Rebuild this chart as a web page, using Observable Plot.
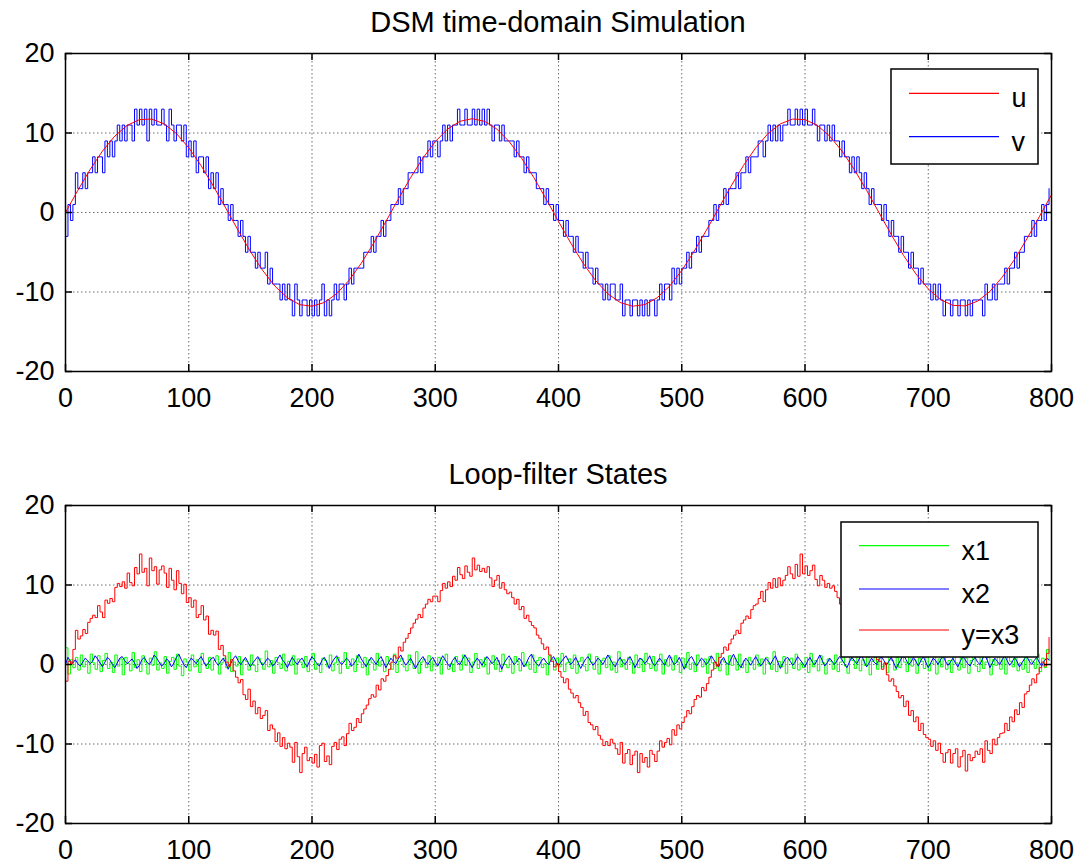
<!DOCTYPE html>
<html><head><meta charset="utf-8">
<script src="https://cdn.jsdelivr.net/npm/d3@7"></script>
<script src="https://cdn.jsdelivr.net/npm/@observablehq/plot@0.6"></script>
<style>
body{margin:0;background:#fff;}
#root{position:relative;width:1083px;height:865px;overflow:hidden;background:#fff;font-family:"Liberation Sans",Arial,sans-serif;}
.abs{position:absolute;}
</style></head>
<body><div id="root"></div>
<script>
const xTicks = [0,100,200,300,400,500,600,700,800];
const yTicks = [-20,-10,0,10,20];
const titles = ["DSM time-domain Simulation", "Loop-filter States"];
const legendTop = ["u", "v"];
const legendBottom = ["x1", "x2", "y=x3"];
const uStep = 10;   // sample spacing of u
const sStep = 2;    // sample spacing of v, x1, x2, x3

const u = [0,2.78,5.41,7.73,9.61,10.96,11.68,11.75,11.15,9.93,8.14,5.90,3.32,0.56,-2.23,-4.90,-7.29,-9.28,-10.73,-11.59,-11.79,-11.32,-10.22,-8.54,-6.38,-3.86,-1.12,1.68,4.39,6.84,8.92,10.49,11.47,11.80,11.47,10.49,8.92,6.84,4.39,1.68,-1.12,-3.86,-6.38,-8.54,-10.22,-11.32,-11.79,-11.59,-10.73,-9.28,-7.29,-4.90,-2.23,0.56,3.32,5.90,8.14,9.93,11.15,11.75,11.68,10.96,9.61,7.73,5.41,2.78,0,-2.78,-5.41,-7.73,-9.61,-10.96,-11.68,-11.75,-11.15,-9.93,-8.14,-5.90,-3.32,-0.56,2.23];

const v = [
-3,1,-1,1,5,3,3,5,3,5, 5,7,5,7,7,5,9,7,9,7, 9,11,9,11,9,11,11,9,13,11, 13,11,13,9,13,11,13,11,11,13,
11,9,13,11,9,11,11,9,11,7, 9,7,9,5,7,7,5,7,3,5, 3,5,1,3,1,1,-1,1,-1,-1, -3,-1,-3,-5,-3,-5,-5,-7,-5,-7,
-7,-5,-9,-7,-9,-9,-9,-11,-9,-11, -9,-11,-13,-9,-11,-13,-11,-11,-13,-11, -13,-11,-13,-11,-9,-13,-11,-13,-11,-9, -11,-9,-9,-11,-9,-7,-9,-7,-7,-7,
-7,-5,-5,-5,-3,-5,-3,-3,-1,-3, -1,-1,1,1,1,3,1,3,3,5, 5,5,5,7,5,7,7,9,7,9, 9,7,9,11,9,11,9,11,11,13,
11,11,13,11,11,13,11,13,11,13, 11,13,11,9,11,11,9,11,9,9, 9,9,7,9,7,7,5,7,5,5, 5,3,3,3,1,3,1,1,-1,1,
-1,-1,-3,-1,-3,-3,-5,-3,-5,-5, -7,-5,-7,-7,-9,-7,-9,-9,-11,-9, -11,-9,-9,-11,-11,-9,-13,-11,-11,-13, -11,-11,-13,-11,-13,-11,-13,-11,-11,-13,
-11,-9,-11,-9,-9,-11,-7,-9,-7,-9, -7,-7,-5,-7,-5,-5,-3,-5,-3,-3, -3,-1,-1,1,-1,1,1,3,1,3, 3,3,5,3,5,5,7,5,7,7,
7,9,9,7,9,11,9,11,9,11, 9,11,11,13,11,11,13,11,13,11, 13,11,11,13,11,9,11,11,9,11, 9,11,9,9,7,9,7,7,5,7,
5,7,5,3,5,3,1,3,1,1, 1,-1,1,-1,-3,-1,-3,-3,-5,-3, -5,-5,-7,-5,-7,-7,-9,-7,-9,-9, -9,-11,-9,-11,-9,-11,-13,-11,-11,-13,
-11,-11,-13,-11,-11,-13,-11,-13,-11,-11, -11,-11,-13,-9,-11,-11,-9,-11,-9,-9, -9,-7,-9,-7,-7,-5,-7,-5,-5,-3, -3,-3,-1,-3,-1,-1,1,-1,1,3
];

const x3 = [
-2.1,0.4,0.1,1.9,4.3,3.2,3.6,4.4,3.9,5.3, 5.8,6.2,5.9,7.4,6.6,5.9,8.1,7.7,8.3,7.9, 9.7,10.2,9.8,10.4,9.6,11.5,10.3,9.9,12.2,11.4, 13.9,11.6,12.1,9.9,13.4,11.8,12.3,10.1,11.9,12.4,
11.5,9.7,12.1,10.6,9.4,11.8,10.2,8.9,10.1,7.8, 8.4,7.2,8.1,5.9,6.3,7.4,5.6,6.1,3.8,4.3, 3.7,4.2,1.9,2.4,1.1,0.3,-0.2,0.6,-0.8,-1.6, -2.3,-1.9,-3.8,-4.4,-3.1,-5.3,-4.6,-6.2,-5.4,-6.8,
-6.4,-5.8,-8.3,-7.6,-8.1,-9.7,-8.6,-10.3,-9.2,-10.6, -9.9,-10.4,-12.3,-9.8,-11.6,-13.6,-11.2,-10.4,-12.1,-11.7, -12.4,-11.3,-12.9,-10.2,-9.9,-12.2,-11.5,-12.6,-10.3,-9.8, -10.7,-9.4,-9.1,-10.2,-8.7,-7.4,-8.3,-7.9,-6.8,-7.3,
-6.2,-5.6,-5.1,-4.3,-3.8,-4.1,-2.6,-3.2,-1.8,-2.1, -1.4,-0.6,0.3,1.1,0.8,2.2,1.7,2.8,3.3,3.9, 4.6,5.2,5.7,6.3,5.9,7.1,7.6,8.2,7.9,8.6, 8.6,7.9,9.3,10.2,9.6,10.4,9.8,11.1,10.6,12.2,
11.3,10.8,12.4,11.6,11.1,13.4,11.9,12.5,11.7,12.1, 11.6,12.3,10.9,9.8,10.6,11.2,9.6,10.3,9.4,8.9, 9.1,8.4,7.6,8.2,6.9,7.3,5.8,6.2,5.4,4.9, 4.6,3.7,3.3,2.6,1.9,2.2,1.2,0.4,-0.3,0.1,
-0.9,-1.6,-2.3,-1.8,-3.1,-3.6,-4.2,-3.9,-4.8,-5.4, -6.4,-5.9,-7.3,-7.6,-8.2,-7.8,-8.9,-9.4,-10.2,-9.7, -10.2,-9.4,-9.9,-10.6,-11.3,-9.8,-12.4,-11.2,-10.7,-12.6, -11.4,-10.9,-13.6,-11.2,-12.3,-11.7,-12.9,-10.8,-11.3,-12.2,
-10.9,-9.6,-10.4,-9.8,-9.3,-10.1,-8.2,-8.9,-7.6,-8.1, -7.3,-6.6,-5.8,-6.2,-5.3,-4.4,-3.9,-4.1,-2.9,-3.3, -2.4,-1.6,-0.7,0.3,-0.2,0.9,1.4,2.2,1.8,2.6, 3.2,3.7,4.3,3.9,5.2,5.6,6.1,5.8,6.9,7.4,
7.6,8.3,9.2,7.9,9.4,10.3,9.6,10.8,9.7,10.9, 9.9,10.6,11.2,12.3,11.4,10.8,12.6,11.1,13.9,11.4, 12.4,11.2,11.8,12.5,10.7,9.9,11.2,10.6,9.7,10.2, 9.6,9.9,9.2,8.4,7.6,8.3,7.1,6.6,5.8,6.2,
5.8,6.1,4.6,3.7,4.2,2.9,1.8,2.3,1.2,0.6, 0.4,-0.6,0.2,-1.3,-2.1,-1.8,-2.7,-3.4,-4.2,-3.9, -5.3,-4.6,-6.4,-5.8,-7.2,-6.6,-8.3,-7.4,-8.8,-9.2, -9.4,-10.3,-9.6,-10.8,-9.9,-11.2,-12.3,-11.1,-10.7,-12.4,
-11.2,-10.6,-12.9,-11.6,-10.8,-13.4,-11.3,-12.1,-11.7,-10.9, -11.3,-10.6,-12.3,-9.6,-10.8,-11.2,-9.4,-10.1,-9.2,-8.7, -8.6,-7.4,-8.3,-6.6,-7.2,-5.7,-6.3,-4.8,-5.4,-3.7, -3.4,-2.6,-1.8,-2.3,-1.2,-0.4,0.3,-0.2,1.4,3.4
];

const x1 = [
2.1,-1.2,0.6,-0.4,0.9,-0.7,1.2,-0.3,0.4,-1.1,1.3,0.2,-0.6,1.1,-0.9,0.5,1.4,-0.5,0.3,-1.0,
1.2,-0.2,0.7,-1.3,0.9,0.1,-0.8,1.5,-0.4,0.6,-0.9,1.1,0.3,-1.2,0.8,-0.1,1.6,-0.7,0.2,-0.5,
1.0,-1.1,0.4,0.9,-0.6,1.3,-0.2,-1.4,0.7,0.3,-0.8,1.2,-0.3,0.6,-1.0,1.4,0.1,-0.5,0.9,-0.7,
0.5,1.1,-1.2,0.2,0.8,-0.4,1.5,-0.9,0.3,-0.2,1.0,-1.3,0.6,0.4,-0.7,1.2,-0.1,-0.9,0.8,0.2,
-0.6,1.7,-0.3,0.5,-1.1,0.9,0.2,-0.5,1.3,-0.8,0.4,-0.1,1.1,-1.2,0.7,0.3,-0.4,1.0,-0.9,0.6,
1.4,-0.6,0.1,-1.0,0.8,0.5,-0.3,1.2,-0.8,0.2,0.9,-1.1,0.4,1.5,-0.5,-0.2,0.7,-0.9,1.1,0.3,
-0.4,0.9,-1.3,0.6,0.2,-0.7,1.4,-0.2,0.5,-0.9,1.0,0.1,-0.6,1.3,-1.0,0.4,0.8,-0.3,-0.8,1.2,
0.2,-0.5,1.6,-1.1,0.3,0.7,-0.4,1.1,-0.8,0.5,-0.2,0.9,-1.2,0.6,1.3,-0.6,0.1,-0.9,1.0,0.4,
-0.7,1.2,-0.1,0.8,-1.0,0.3,1.4,-0.5,0.6,-0.3,0.9,-1.2,0.2,1.1,-0.6,0.5,-0.9,1.3,0.0,-0.4,
0.7,-1.1,1.0,0.4,-0.8,1.5,-0.2,0.3,-0.6,1.2,-1.0,0.5,0.9,-0.4,0.1,-1.3,1.1,0.6,-0.7,0.8,
-0.3,1.4,-0.9,0.2,0.7,-0.5,1.2,-1.1,0.4,0.9,-0.2,-0.8,1.3,0.3,-0.6,1.0,-1.2,0.5,0.8,-0.4,
1.1,-0.7,0.3,-1.0,1.6,-0.3,0.6,-0.6,0.9,0.2,-1.1,1.2,-0.4,0.7,-0.9,1.4,0.1,-0.5,1.0,-0.8,
0.4,1.3,-1.2,0.6,-0.2,0.9,-0.7,1.1,0.3,-1.0,0.8,-0.4,1.5,-0.6,0.2,-0.9,1.2,0.5,-0.3,0.7,
-1.1,1.0,0.2,-0.5,1.4,-0.8,0.6,0.3,-1.3,1.1,-0.1,0.8,-0.7,1.3,-0.4,0.5,-1.0,0.9,0.4,-0.6,
1.2,-0.2,0.7,-1.2,0.9,0.1,-0.6,1.6,-0.9,0.4,-0.3,1.0,-1.1,0.6,0.8,-0.5,1.3,-0.7,0.2,-0.4,
0.9,-1.0,1.4,-0.3,0.5,-0.8,1.1,0.2,-1.2,0.7,0.4,-0.6,1.2,-0.9,0.3,1.0,-0.2,-1.1,0.8,0.5,
-0.5,1.3,-0.8,0.6,-0.1,1.1,-1.3,0.4,0.9,-0.6,1.5,-0.3,0.2,-1.0,1.2,0.5,-0.7,0.9,-0.4,1.0,
0.3,-0.9,1.4,-0.2,0.6,-1.1,0.8,0.4,-0.5,1.7,-0.8,0.1,1.0,-1.2,0.7,-0.3,1.1,-0.6,0.5,-1.0,
1.2,0.2,-0.7,1.3,-0.4,0.8,-1.1,0.5,1.0,-0.2,-0.9,1.4,-0.5,0.3,0.9,-1.3,0.6,-0.1,1.1,-0.6,
0.7,-1.2,1.0,0.4,-0.3,1.5,-0.8,0.2,-0.6,1.1,-1.0,0.6,0.3,-0.5,1.3,-0.9,0.8,-0.4,1.9,0.5
];

const x2 = [
0.0,0.9,0.4,0.2,0.6,0.1,-0.2,0.3,0.8,0.5,0.1,0.4,1.1,0.7,0.2,-0.3,0.3,0.9,0.6,0.0,
-0.4,0.2,0.8,1.0,0.5,0.1,0.4,0.7,0.2,-0.5,-0.1,0.6,0.9,0.3,0.0,0.5,1.2,0.8,0.3,-0.2,
0.1,0.7,0.4,-0.3,0.2,0.9,1.3,0.6,0.0,-0.4,0.3,0.8,0.5,0.1,0.6,1.0,0.4,-0.2,0.2,0.7,
0.9,0.3,-0.1,0.4,0.8,0.2,-0.6,0.1,0.7,1.1,0.5,0.0,0.4,0.9,0.3,-0.3,0.2,0.6,1.0,0.4,
-0.1,0.3,0.8,0.5,-0.2,0.1,0.7,1.2,0.6,0.2,-0.4,0.3,0.9,0.4,0.0,0.5,0.8,0.2,-0.3,0.4,
1.0,0.6,0.1,-0.2,0.5,0.9,0.3,-0.5,0.2,0.7,1.1,0.4,0.0,0.3,0.8,0.5,-0.2,0.1,0.6,1.3,
0.7,0.2,-0.3,0.4,0.9,0.5,0.0,0.6,1.0,0.3,-0.4,0.2,0.8,0.4,0.1,0.7,1.2,0.5,-0.1,0.3,
0.8,0.2,-0.5,0.1,0.6,1.0,0.4,0.0,0.5,0.9,0.3,-0.2,0.4,1.1,0.6,0.1,-0.3,0.5,0.9,0.2,
0.0,0.6,1.2,0.7,0.2,-0.4,0.3,0.8,0.4,-0.1,0.5,1.0,0.6,0.1,0.4,0.9,0.2,-0.6,0.2,0.7,
1.1,0.5,0.0,0.3,0.8,0.4,-0.3,0.2,0.9,1.3,0.6,0.1,-0.2,0.4,0.8,0.3,0.0,0.6,1.0,0.4,
-0.2,0.3,0.7,1.1,0.5,0.0,0.4,0.9,0.2,-0.5,0.1,0.7,1.0,0.4,-0.1,0.3,0.8,0.5,0.0,0.6,
1.2,0.7,0.1,-0.3,0.4,0.9,0.3,0.0,0.5,1.0,0.4,-0.4,0.2,0.8,0.6,0.1,0.5,1.1,0.3,-0.2,
0.3,0.8,0.4,-0.1,0.6,1.2,0.5,0.0,0.3,0.9,0.2,-0.6,0.1,0.7,1.0,0.4,-0.2,0.3,0.8,0.5,
0.0,0.4,1.1,0.6,0.1,-0.3,0.5,0.9,0.2,0.0,0.7,1.3,0.6,0.1,-0.4,0.3,0.8,0.4,-0.1,0.5,
1.0,0.4,-0.2,0.2,0.8,0.5,0.0,0.6,1.1,0.3,-0.5,0.1,0.7,0.9,0.4,-0.1,0.3,1.0,0.6,0.2,
-0.3,0.4,0.9,0.3,0.0,0.6,1.2,0.5,-0.2,0.2,0.8,0.4,0.0,0.5,1.0,0.6,0.1,-0.4,0.3,0.9,
0.5,0.1,0.7,1.1,0.4,-0.3,0.2,0.8,0.3,0.0,0.6,1.0,0.5,-0.1,0.4,0.9,0.2,-0.5,0.1,0.7,
1.2,0.6,0.0,0.3,0.9,0.4,-0.2,0.5,1.0,0.3,-0.4,0.2,0.8,0.5,0.0,0.6,1.1,0.4,-0.1,0.3,
0.8,0.2,-0.3,0.4,1.0,0.6,0.1,-0.2,0.5,0.9,0.3,0.0,0.7,1.2,0.5,-0.4,0.2,0.8,0.4,0.0,
0.6,1.1,0.5,-0.1,0.3,0.9,0.4,-0.3,0.2,0.7,1.0,0.4,0.0,0.5,0.9,0.3,-0.2,0.4,0.8,0.6
];

const colors = {u:"#ff0000", v:"#0000ff", x1:"#00ff00", x2:"#0000ff", x3:"#ff0000"};
const FONT = "'Liberation Sans', Arial, Helvetica, sans-serif";
const toRows = (arr, step) => arr.map((val, i) => ({n: i * step, val}));

const ML = 65, MR = 32, W = 1083, TICK = 7;

function baseMarks() {
  return [
    Plot.gridX(xTicks, {stroke:"#555", strokeOpacity:0.85, strokeDasharray:"1.5,2.5", strokeWidth:1}),
    Plot.gridY(yTicks, {stroke:"#555", strokeOpacity:0.85, strokeDasharray:"1.5,2.5", strokeWidth:1})
  ];
}
function axisMarks(plotH) {
  const fmt = d => String(d);
  const plotW = W - ML - MR;
  const tk = {stroke:"#000", strokeWidth:1.5};
  return [
    Plot.axisX(xTicks, {anchor:"bottom", tickSize:0, tickPadding:16, tickFormat:fmt, label:null, fontSize:27, fill:"#000"}),
    Plot.axisY(yTicks, {anchor:"left", tickSize:0, tickPadding:11, tickFormat:fmt, label:null, fontSize:27, fill:"#000"}),
    // inward tick marks on all four sides
    Plot.tickX(xTicks, {x: d => d, insetTop: plotH - TICK, ...tk}),
    Plot.tickX(xTicks, {x: d => d, insetBottom: plotH - TICK, ...tk}),
    Plot.tickY(yTicks, {y: d => d, insetRight: plotW - TICK, ...tk}),
    Plot.tickY(yTicks, {y: d => d, insetLeft: plotW - TICK, ...tk}),
    Plot.frame({stroke:"#000", strokeWidth:1.5})
  ];
}
function makePlot(height, marginTop, marginBottom, marks) {
  const plotH = height - marginTop - marginBottom;
  return Plot.plot({
    width: W, height,
    marginLeft: ML, marginRight: MR, marginTop, marginBottom,
    style: {fontFamily: FONT, fontSize: "27px", color: "#000", background: "transparent", overflow: "visible"},
    x: {domain: [0, 800], label: null},
    y: {domain: [-20, 20], label: null},
    marks: [...baseMarks(), ...marks, ...axisMarks(plotH)]
  });
}

const root = document.getElementById("root");

const topPlot = makePlot(420, 53, 49, [
  Plot.line(toRows(v, sStep), {x:"n", y:"val", stroke:colors.v, strokeWidth:1, curve:"step-after"}),
  Plot.line(toRows(u, uStep), {x:"n", y:"val", stroke:colors.u, strokeWidth:1})
]);
topPlot.classList.add("abs"); topPlot.style.left = "0px"; topPlot.style.top = "0px";
root.appendChild(topPlot);

const bottomPlot = makePlot(413, 53, 42, [
  Plot.line(toRows(x1, sStep), {x:"n", y:"val", stroke:colors.x1, strokeWidth:1, curve:"step-after"}),
  Plot.line(toRows(x2, sStep), {x:"n", y:"val", stroke:colors.x2, strokeWidth:1}),
  Plot.line(toRows(x3, sStep), {x:"n", y:"val", stroke:colors.x3, strokeWidth:1, curve:"step-after"})
]);
bottomPlot.classList.add("abs"); bottomPlot.style.left = "0px"; bottomPlot.style.top = "452px";
root.appendChild(bottomPlot);

// titles and legends overlay
const ov = d3.create("svg").attr("width", 1083).attr("height", 865)
  .attr("class", "abs").style("left", "0px").style("top", "0px")
  .style("font-family", FONT);
ov.append("text").attr("x", 558).attr("y", 31.5).attr("text-anchor", "middle")
  .attr("font-size", 29).attr("fill", "#000").text(titles[0]);
ov.append("text").attr("x", 558).attr("y", 483.5).attr("text-anchor", "middle")
  .attr("font-size", 29).attr("fill", "#000").text(titles[1]);

function legend(x, y, w, h, entries) {
  const g = ov.append("g").attr("transform", `translate(${x},${y})`);
  g.append("rect").attr("x", 0).attr("y", 0).attr("width", w).attr("height", h)
    .attr("fill", "#fff").attr("stroke", "#000").attr("stroke-width", 1.5);
  entries.forEach((e) => {
    const ly = e.y;
    g.append("line").attr("x1", 18).attr("x2", 108).attr("y1", ly).attr("y2", ly)
      .attr("stroke", e.color).attr("stroke-width", 1.2);
    g.append("text").attr("x", 120.5).attr("y", ly + 14).attr("font-size", 27)
      .attr("fill", "#000").text(e.label);
  });
}
legend(891, 69, 147, 95, [
  {label: legendTop[0], color: colors.u, y: 24.3},
  {label: legendTop[1], color: colors.v, y: 67.7}
]);
legend(841, 522, 197, 135, [
  {label: legendBottom[0], color: colors.x1, y: 23.7},
  {label: legendBottom[1], color: colors.x2, y: 67},
  {label: legendBottom[2], color: colors.x3, y: 108}
]);
root.appendChild(ov.node());
</script>
</body></html>
